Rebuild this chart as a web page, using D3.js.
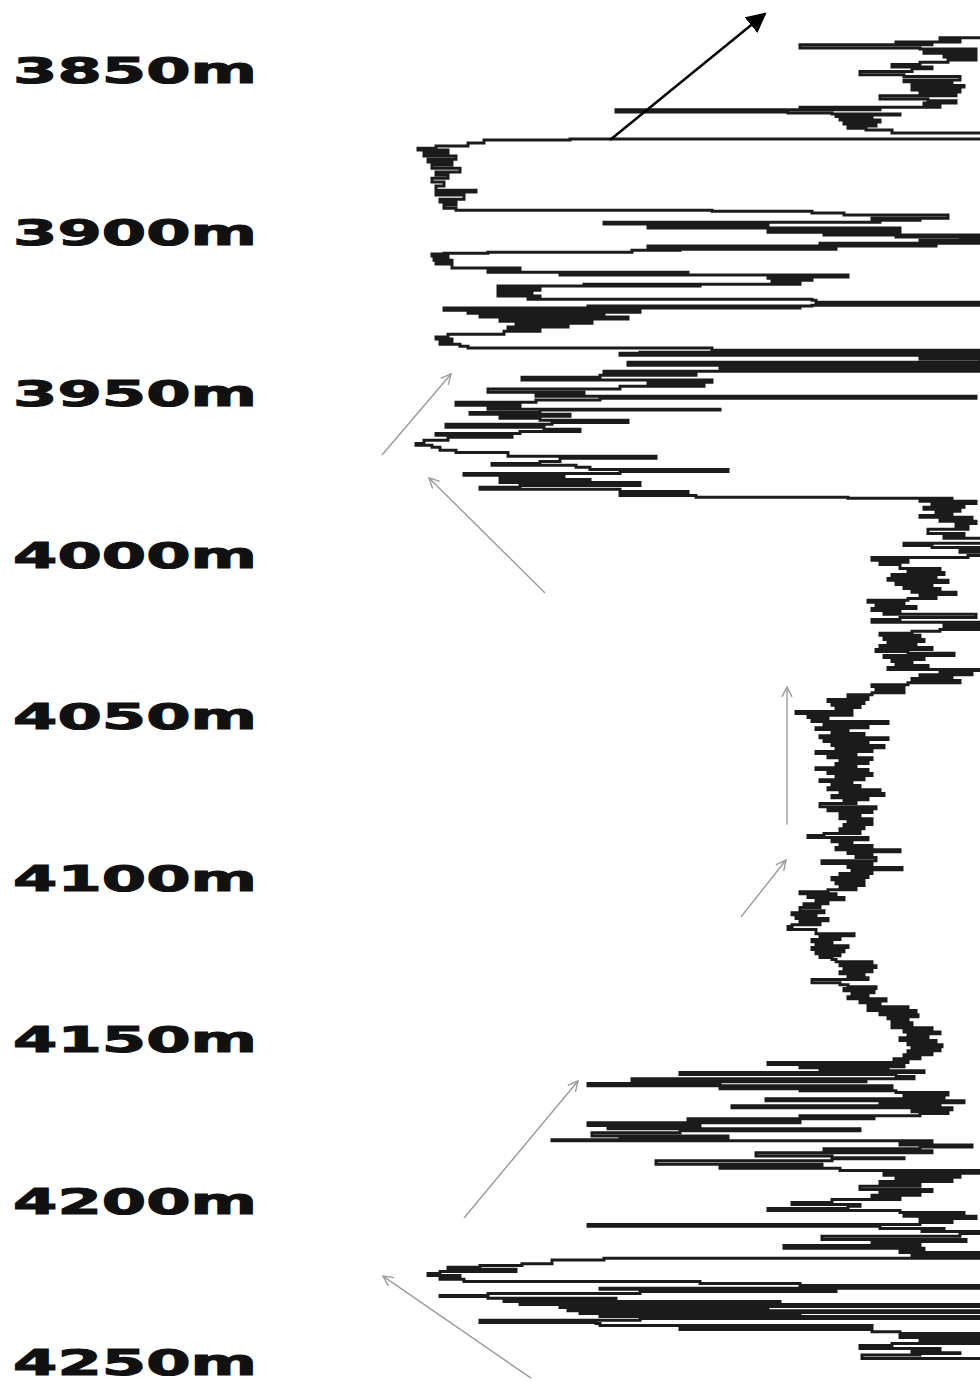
<!DOCTYPE html>
<html>
<head>
<meta charset="utf-8">
<script src="https://cdn.jsdelivr.net/npm/d3@7"></script>
<style>
  html, body { margin: 0; padding: 0; background: #fff; }
  svg { display: block; }
</style>
</head>
<body>
<svg id="chart" width="980" height="1382"></svg>
<script>
// Depth track labels (m)
const depthTicks = [3850, 3900, 3950, 4000, 4050, 4100, 4150, 4200, 4250];

// Log samples as [depth (m), reading]; readings above the track limit run off the right edge
const upperZone = [
  [3840.0,160],[3840.7,135],[3841.3,140],[3841.6,124],[3842.2,133],[3843.2,100],[3843.5,130],[3844.4,144],
  [3844.8,131],[3845.4,144],[3846.0,136],[3846.9,144],[3847.6,137],[3848.3,130],[3849.1,123],[3849.6,133],
  [3850.5,128],[3851.5,115],[3852.0,126],[3853.1,140],[3853.6,126],[3854.3,138],[3854.8,128],[3855.3,141],
  [3856.2,128],[3856.8,140],[3857.4,130],[3858.0,139],[3859.0,120],[3859.5,132],[3860.2,139],[3860.8,131],
  [3861.5,135],[3861.7,100],[3862.3,120],[3863.0,54],[3863.3,97],[3863.6,108],[3863.9,125],[3864.4,109],
  [3865.0,118],[3865.5,110],[3866.1,120],[3866.7,111],[3867.3,119],[3868.0,112],[3868.6,116.5],[3869.5,123],
  [3870.1,160],[3871.4,150],[3871.7,42.5],[3872.6,21],[3873.5,17],[3874.2,9],
  [3874.8,4.5],[3875.7,12],[3876.6,6],[3877.6,14],[3878.5,7],[3879.4,13],[3880.4,8],[3881.6,15],[3882.5,9],
  [3883.5,12],[3884.7,8],[3885.9,11],[3887.2,9],[3887.8,19],[3888.7,9],[3890.0,16],[3890.9,10],[3891.8,14],
  [3892.8,11],[3893.4,14],[3893.7,78],[3894.3,103],[3894.9,111],[3895.9,137],[3896.2,118],[3896.5,130],
  [3897.1,120],[3897.7,51],[3898.3,92],[3898.9,62],[3899.6,125],[3900.2,92],[3900.5,125],[3901.1,106],
  [3901.4,145],[3901.7,124],[3902.1,160],[3902.7,140],[3903.0,130],[3903.6,145],[3904.2,105],[3904.5,134],
  [3905.2,62],[3905.5,109],[3905.8,70],[3906.4,58],[3906.7,22],[3907.0,11],[3907.6,8],[3908.2,12],
  [3908.9,8.5],[3909.5,13],[3910.1,9],[3910.7,13],[3911.3,13],[3912.0,30],[3912.6,22],[3913.2,72],
  [3913.5,40],[3914.1,112],[3914.5,92],[3915.1,103],[3915.7,93],[3916.3,100],[3916.6,46],[3916.9,75],
  [3917.5,24.5],[3918.2,35],[3918.8,24.5],[3919.4,33],[3920.0,24.5],[3920.3,35],[3921.0,32],[3921.3,103],
  [3921.9,104],[3922.2,160],[3922.8,145],[3923.1,103],[3923.4,47],[3923.7,100],[3924.4,11],
  [3925.0,60],[3925.3,17],[3925.9,51],[3926.5,20],[3927.1,57],[3927.8,25],[3928.4,48],[3929.0,29],
  [3929.6,42],[3930.2,27],[3930.9,35],[3931.8,26],[3932.7,12],[3933.3,9],[3934.0,13],[3934.9,10],
  [3935.5,15],[3936.1,17],[3936.8,78],[3937.4,145],[3937.7,60],[3938.3,55],[3938.9,160],[3939.5,130],
  [3940.5,145],[3941.4,57],[3942.0,145],[3942.6,80],[3943.3,160],[3943.9,51],[3944.5,74],[3945.1,50],
  [3946.0,30.5],[3946.7,78],[3947.3,62],[3947.9,76],[3948.8,55],[3949.8,22],[3950.4,46],[3951.0,34],
  [3951.6,144],[3952.2,50],[3952.9,34],[3953.8,14],[3954.4,30],[3955.0,22],[3955.3,80],[3956.0,35],
  [3956.6,17.5],[3957.2,42.5],[3957.8,25],[3958.4,35],[3959.1,57],[3959.7,38],[3960.6,11.5],[3961.2,36],
  [3961.9,45],[3962.5,30],[3963.1,9],[3963.7,28],[3964.6,12],[3965.6,6],[3966.2,4],[3966.8,8],
  [3967.7,10],[3968.4,14],[3968.7,27],[3969.6,27],[3970.2,64],[3971.2,40],[3971.8,35],[3972.4,23],
  [3973.0,44],[3973.7,47.5],[3974.3,82],[3974.9,55],[3975.5,16],[3976.1,41],[3976.8,25],[3977.4,47.5],
  [3977.7,25],[3978.6,60],[3979.2,30],[3979.8,20],[3980.5,55],[3981.1,72],[3981.7,55],[3982.3,74],
  [3982.6,112],[3982.9,138],[3983.5,130],[3984.2,144]
];

const middleZone = [
  [3984.8,133],[3985.4,141],[3986.0,131],[3986.6,140],[3987.3,134],[3987.9,138],[3988.5,130],[3989.1,143],
  [3989.7,135],[3990.4,144],[3991.3,139],[3992.2,142],[3993.5,132],[3994.1,141],[3995.0,136],[3995.6,160],
  [3996.5,150],[3997.2,126],[3997.8,133],[3998.4,160],[3999.3,140],[4000.3,160],[4000.9,142],[4001.8,118],
  [4002.4,127],[4003.1,120],[4004.3,125],[4004.9,135],[4005.6,127],[4006.2,136],[4006.8,123],[4007.4,134],
  [4008.0,122],[4008.7,137],[4009.3,124],[4009.9,133],[4010.5,126],[4011.1,135],[4011.7,128],[4012.4,139],
  [4013.0,130],[4013.6,134],[4014.2,127],[4014.8,117],[4015.4,126],[4016.1,119],[4016.7,129],[4017.3,118],
  [4017.9,125],[4018.5,121],[4019.5,144],[4020.1,125],[4021.0,118],[4021.3,145],[4021.9,160],[4022.6,136],
  [4023.2,150],[4023.8,135],[4024.4,128],[4025.0,120],[4025.7,130],[4026.3,121],[4026.9,131],[4027.5,122],
  [4028.2,129],[4028.8,120],[4029.4,133],[4030.0,119],[4030.6,127],[4031.3,138.5],[4031.9,121],[4032.5,131],
  [4033.1,123],[4033.8,128],[4034.4,124],[4035.0,132],[4035.6,122],[4035.9,160],[4036.5,135],[4037.2,143],
  [4037.8,130],[4038.4,138],[4039.0,128],[4039.7,140],[4040.3,127],[4040.9,118],[4041.5,126],[4042.1,119],
  [4042.8,126],[4043.4,118],[4044.3,112],[4044.9,117],[4045.5,107],[4046.1,116],[4046.7,108],[4047.4,115],
  [4048.0,109],[4048.6,113],[4049.2,99],[4049.8,113],[4050.5,102],[4051.1,107],[4051.7,103],[4052.3,122],
  [4052.9,106],[4053.6,117],[4054.2,104],[4054.8,112],[4055.4,108],[4056.1,116],[4056.7,105],[4057.3,122],
  [4057.9,106],[4058.5,117],[4059.1,108],[4059.8,121],[4060.4,109],[4061.0,118],[4061.6,104],[4062.2,114],
  [4062.9,107],[4063.5,118],[4064.1,110],[4064.7,117],[4065.3,109],[4066.0,114],[4066.6,104],[4067.2,117],
  [4067.8,107],[4068.4,118],[4069.1,109],[4069.7,116],[4070.3,105],[4070.9,113],[4071.5,108],[4072.2,115],
  [4072.8,107],[4073.4,120],[4074.0,110],[4074.6,121],[4075.3,108],[4075.9,117],[4076.5,111],[4077.1,114],
  [4078.1,105],[4078.7,119],[4079.3,107],[4079.9,118],[4080.5,110],[4081.2,115],[4081.8,110],[4082.4,118],
  [4083.0,112],[4083.6,118],[4084.3,111],[4084.9,116],[4085.5,110],[4086.4,115],[4087.0,106],[4087.6,102],
  [4088.3,117],[4088.9,108],[4089.5,113],[4090.1,110],[4090.7,118],[4091.4,109],[4092.0,125],[4092.6,112],
  [4093.2,118],[4093.8,114],[4094.8,119],[4095.7,105.5],[4096.3,118],[4096.9,112],[4097.6,125.5],[4098.2,113],
  [4098.8,118],[4099.4,110],[4100.0,117],[4100.7,108],[4101.3,116],[4101.9,109],[4102.5,116],[4103.1,110],
  [4103.8,114],[4104.4,107],[4105.0,100],[4105.6,109],[4106.2,102],[4106.9,111],[4107.5,104],[4108.1,107],
  [4108.7,101],[4109.3,105],[4110.3,100],[4110.9,106],[4111.5,98],[4112.1,104],[4112.7,99],[4113.4,107],
  [4114.0,100],[4114.6,105],[4115.2,98],[4116.1,97],[4116.8,104],[4117.4,104],[4118.0,113.5],[4118.6,105],
  [4119.2,110],[4119.9,103],[4120.5,108],[4121.1,104],[4121.7,112],[4122.3,103],[4123.0,111],[4123.6,104],
  [4124.2,110],[4124.8,105],[4125.4,108],[4126.1,109],[4126.7,118],[4127.3,110],[4127.9,119],[4128.5,111],
  [4129.2,118],[4129.8,110],[4130.4,116],[4131.0,112],[4131.6,117],[4132.6,103],[4133.2,110],[4133.8,112],
  [4134.4,119],[4135.1,111],[4135.7,118.5],[4136.3,113],[4136.9,117],[4137.5,112],[4138.2,121.5],[4138.8,115],
  [4139.4,120],[4140.0,117],[4140.6,127],[4141.2,117],[4141.9,129],[4142.5,120],[4143.1,129.5],[4143.7,122],
  [4144.3,127],[4145.0,123],[4145.9,128],[4146.5,123],[4147.1,133],[4147.8,126],[4148.4,135],[4149.0,127],
  [4149.6,132],[4150.5,125],[4151.2,134],[4151.8,127],[4152.4,135.5],[4153.0,128],[4153.6,135],[4154.2,127],
  [4154.9,133],[4155.5,126],[4156.1,130],[4156.7,123.5],[4157.3,127]
];

const lowerZone = [
  [4157.9,92],[4158.6,126],[4158.9,100],[4159.5,122],[4159.8,105],[4160.4,131],[4161.0,70],[4161.6,124],
  [4162.3,128.5],[4162.9,58],[4163.2,116.5],[4163.8,80],[4164.5,47],[4165.1,123],[4165.4,80],[4166.0,100],
  [4166.6,124],[4167.3,137],[4167.9,126],[4168.5,136],[4169.1,91.5],[4169.7,141],[4170.4,120],[4170.7,135],
  [4171.3,83],[4171.9,138],[4172.5,128],[4173.1,137],[4173.8,130],[4174.4,100],[4174.7,118.5],[4175.3,72],
  [4175.9,100],[4176.8,47],[4177.5,75],[4177.8,52],[4178.4,115],[4179.0,70],[4180.0,48],[4180.6,82],
  [4181.2,55],[4181.5,38],[4182.2,133],[4182.8,125],[4183.4,143],[4184.0,130],[4184.6,106],[4185.2,133],
  [4186.2,89],[4186.8,108],[4187.1,126],[4187.7,108],[4188.8,64],[4189.4,105.5],[4190.0,80],[4190.7,110],
  [4191.6,160],[4192.2,121],[4192.8,140],[4193.5,124],[4194.1,138],[4194.7,120],[4195.6,130],[4196.6,115],
  [4197.2,133],[4197.8,120],[4198.4,130],[4199.0,118],[4199.7,125],[4200.6,108],[4201.2,98],[4201.8,115],
  [4202.5,112],[4203.1,92],[4203.7,125],[4204.3,141],[4204.9,126],[4205.6,144],[4206.2,130],[4206.8,138],
  [4207.4,130],[4208.0,47],[4208.7,120],[4209.0,136],[4209.6,130.5],[4210.2,160],[4211.1,140],[4212.1,105.5],
  [4212.7,141.5],[4213.3,118],[4213.9,130],[4214.8,96],[4215.5,131],[4216.1,125],[4216.7,145],[4217.3,128],
  [4217.9,160],[4218.4,51],[4219.6,38],[4220.1,30.5],[4220.7,20],[4221.3,12],[4222.0,29],[4222.6,10],
  [4223.2,7],[4223.8,15],[4224.4,10],[4225.1,16],[4225.7,75],[4226.3,100],[4226.6,160],[4227.2,145],
  [4227.5,50],[4228.2,109],[4228.8,60],[4229.4,22],[4229.7,10],[4230.3,22],[4230.6,54],[4231.3,26],
  [4231.9,95],[4232.2,30],[4232.8,160],[4233.1,40],[4233.7,92],[4234.1,42],[4234.7,150],[4235.0,45],
  [4235.3,100],[4235.9,50],[4236.5,160],[4237.1,60],[4237.8,20],[4238.1,49],[4238.7,50],[4239.3,118],
  [4239.9,70],[4240.6,118],[4241.2,125],[4241.8,160],[4242.4,125],[4243.0,160],[4243.7,130],[4244.3,145],
  [4244.9,123],[4245.8,115],[4246.4,135],[4247.1,128],[4247.4,140],[4247.8,130],[4248.9,115.5],[4249.5,160]
];

// Interpretation pointers: [depth, reading] tail -> head
const pointerArrows = [
  { from: [3969.2, -4.5], to: [3944.1, 12.75] },
  { from: [4011.9, 36.25], to: [3976.3, 7.25] },
  { from: [4083.7, 96.75], to: [4041.0, 96.75] },
  { from: [4112.2, 85.25], to: [4094.6, 96.5] },
  { from: [4205.4, 16.0], to: [4163.0, 44.5] },
  { from: [4255.0, 32.75], to: [4223.4, -4.25] }
];
const leadArrow = { from: [3871.7, 52.5], to: [3832.6, 91.25] };

const svg = d3.select("#chart");
svg.append("rect").attr("width", 980).attr("height", 1382).attr("fill", "#fff");

const y = d3.scaleLinear().domain([3850, 4250]).range([70, 1362]);
const x = d3.scaleLinear().domain([0, 150]).range([400, 1000]);

const defs = svg.append("defs");
defs.append("marker")
  .attr("id", "openHead").attr("viewBox", "0 0 12 12")
  .attr("refX", 11).attr("refY", 6)
  .attr("markerWidth", 12).attr("markerHeight", 12)
  .attr("markerUnits", "userSpaceOnUse").attr("orient", "auto")
  .append("path").attr("d", "M1,1 L11,6 L1,11")
  .attr("fill", "none").attr("stroke", "#9a9a9a").attr("stroke-width", 1.4);
defs.append("marker")
  .attr("id", "solidHead").attr("viewBox", "0 0 10 10")
  .attr("refX", 9).attr("refY", 5)
  .attr("markerWidth", 20).attr("markerHeight", 20)
  .attr("markerUnits", "userSpaceOnUse").attr("orient", "auto")
  .append("path").attr("d", "M0,0 L10,5 L0,10 Z").attr("fill", "#000");

// Depth labels
svg.append("g").selectAll("text")
  .data(depthTicks)
  .join("text")
  .attr("x", 13)
  .attr("y", d => y(d) + 13)
  .attr("font-family", "'DejaVu Sans', sans-serif")
  .attr("font-weight", "bold")
  .attr("font-size", 36)
  .attr("textLength", 244)
  .attr("lengthAdjust", "spacingAndGlyphs")
  .attr("fill", "#111")
  .attr("stroke", "#111")
  .attr("stroke-width", 1.1)
  .text(d => d + "m");

// Log curve, drawn as a staircase: each sample holds its reading across the depth step
const samples = upperZone.concat(middleZone, lowerZone);
const curve = d3.line()
  .x(d => x(d[1]))
  .y(d => y(d[0]))
  .curve(d3.curveStepAfter);
svg.append("path")
  .datum(samples)
  .attr("d", curve)
  .attr("fill", "none")
  .attr("stroke", "#1b1b1b")
  .attr("stroke-width", 3)
  .attr("stroke-linejoin", "miter");

// Pointer arrows
svg.append("g").selectAll("line")
  .data(pointerArrows)
  .join("line")
  .attr("x1", d => x(d.from[1])).attr("y1", d => y(d.from[0]))
  .attr("x2", d => x(d.to[1])).attr("y2", d => y(d.to[0]))
  .attr("stroke", "#9a9a9a").attr("stroke-width", 1.4)
  .attr("marker-end", "url(#openHead)");

svg.append("line")
  .attr("x1", x(leadArrow.from[1])).attr("y1", y(leadArrow.from[0]))
  .attr("x2", x(leadArrow.to[1])).attr("y2", y(leadArrow.to[0]))
  .attr("stroke", "#000").attr("stroke-width", 2.5)
  .attr("marker-end", "url(#solidHead)");
</script>
</body>
</html>
